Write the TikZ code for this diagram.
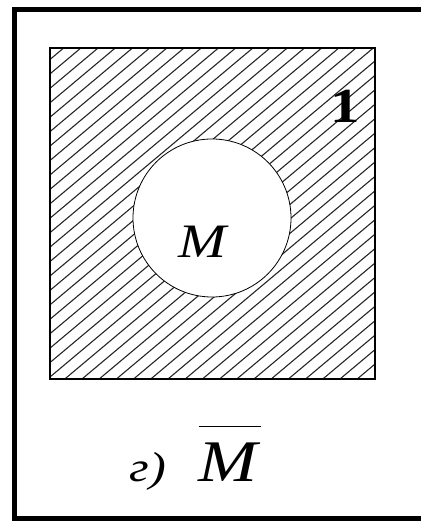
\documentclass[tikz,border=0pt]{standalone}
\usepackage{fontspec}
\setmainfont{Liberation Serif}
\tikzset{
  frame/.style={draw=black, line width=5pt},
  universe/.style={draw=black, line width=1.5pt},
  hatch/.style={draw=black!85, line width=1.1pt},
  hole/.style={draw=black, fill=white, line width=0.8pt},
  setlabel/.style={inner sep=0pt, anchor=base, xscale=1.2}
}
\begin{document}
\begin{tikzpicture}[x=1pt,y=1pt]
\useasboundingbox (0,0) rectangle (420,521);
\draw[frame] (14.5,2.5) rectangle (440,511);
% universe square with hatching
\coordinate (sw) at (50,142);
\coordinate (ne) at (375,473);
\begin{scope}
  \clip (sw) rectangle (ne);
  \foreach \i in {0,...,43}
    \draw[hatch] ({-348+17.2*\i},142) -- ++(40:620);
\end{scope}
\draw[universe] (sw) rectangle (ne);
% the set M
\draw[hole] (212,303) circle (79);
\node[setlabel, font=\fontsize{48}{48}\selectfont\itshape] (m) at (202,263) {M};
\node[setlabel, font=\fontsize{49}{49}\selectfont\bfseries] (one) at (345,398) {1};
% caption
\node[setlabel, font=\fontsize{42}{42}\selectfont\itshape] (tag) at (148,39) {г)};
\node[setlabel, font=\fontsize{59}{59}\selectfont] (compl) at (230,39) {$\overline{\mbox{\itshape M\kern0.05em}\rule{0pt}{0.93em}}$};
\end{tikzpicture}
\end{document}
